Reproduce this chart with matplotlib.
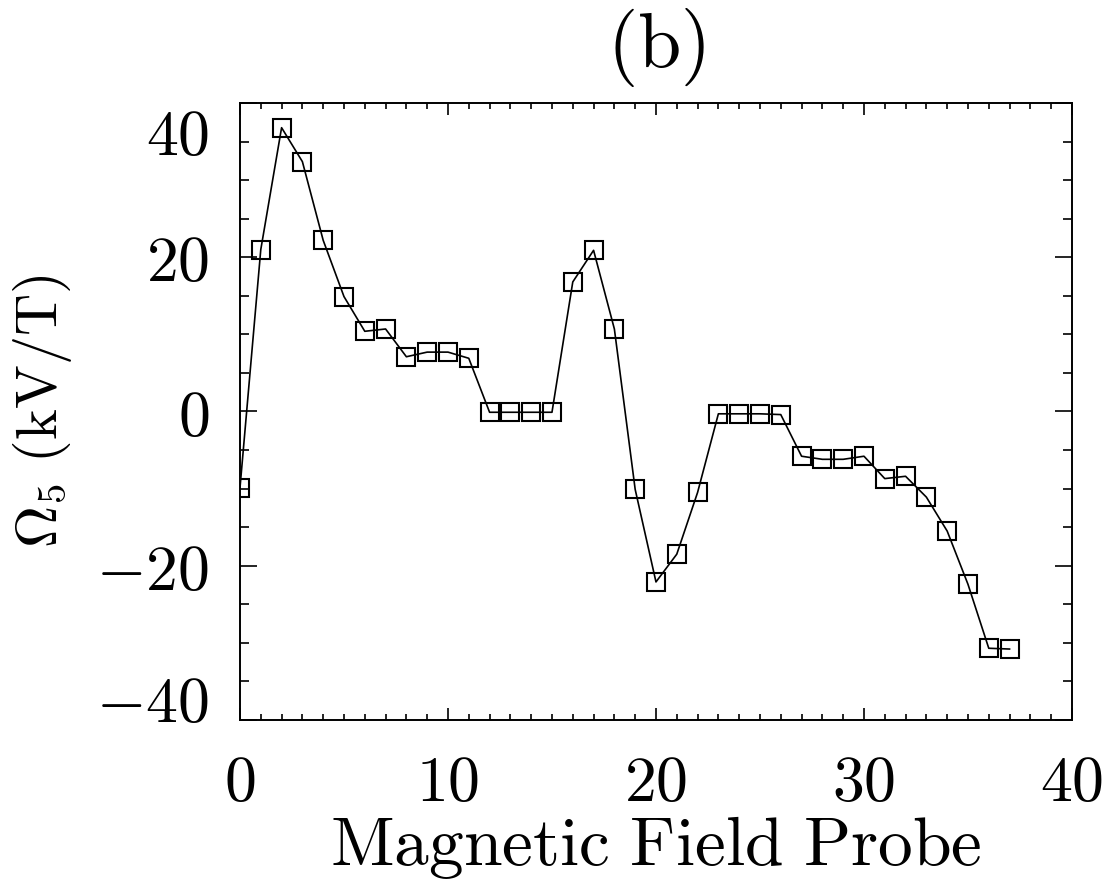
"""Omega_5 per magnetic field probe, panel (b)."""

import matplotlib
matplotlib.use("Agg")
import matplotlib.pyplot as plt
from matplotlib.ticker import FixedLocator, MultipleLocator, FuncFormatter
from matplotlib.transforms import ScaledTranslation


probe = list(range(38))
omega5 = [
    -9.9, 21.0, 36.8, 32.4, 22.2, 14.9, 10.4, 10.7, 7.1, 7.7,
    7.7, 6.9, -0.1, -0.1, -0.1, -0.1, 16.8, 20.9, 10.7, -10.1,
    -22.1, -18.5, -10.5, -0.3, -0.3, -0.3, -0.4, -5.8, -6.2, -6.2,
    -5.8, -8.7, -8.4, -11.1, -15.5, -22.4, -30.7, -30.8,
]

x_ticks = [0, 10, 20, 30, 40]
y_ticks = [-40, -20, 0, 20, 40]


def math_label(value, _pos):
    return f"${value:g}$"


def main() -> None:
    plt.rcParams.update(
        {
            "mathtext.fontset": "cm",
            "font.family": "serif",
            "font.serif": ["DejaVu Serif"],
        }
    )

    fig = plt.figure(figsize=(11.09, 8.88), dpi=100)
    ax = fig.add_axes([0.2164, 0.1892, 0.7502, 0.6948])

    ax.plot(probe, omega5, color="black", linewidth=1.2,
            marker="s", markersize=13, markerfacecolor="none",
            markeredgecolor="black", markeredgewidth=1.5)

    ax.set_xlim(0, 40)
    ax.set_ylim(-40, 40)
    ax.xaxis.set_major_locator(FixedLocator(x_ticks))
    ax.yaxis.set_major_locator(FixedLocator(y_ticks))
    ax.xaxis.set_minor_locator(MultipleLocator(1))
    ax.yaxis.set_minor_locator(MultipleLocator(5))
    ax.xaxis.set_major_formatter(FuncFormatter(math_label))
    ax.yaxis.set_major_formatter(FuncFormatter(math_label))

    ax.tick_params(axis="both", which="both", direction="in",
                   top=True, right=True, width=1.2, color="black")
    ax.tick_params(axis="x", which="major", length=8.5, pad=24, labelsize=46)
    ax.tick_params(axis="x", which="minor", length=4.3)
    ax.tick_params(axis="y", which="major", length=12, pad=22, labelsize=46)
    ax.tick_params(axis="y", which="minor", length=6.5)
    for spine in ax.spines.values():
        spine.set_linewidth(1.4)

    # the end labels sit slightly inside the axis range in the original
    ticks = ax.yaxis.get_major_ticks()
    ticks[0].label1.set_transform(
        ticks[0].label1.get_transform() + ScaledTranslation(0, 16 / 72, fig.dpi_scale_trans))
    ticks[-1].label1.set_transform(
        ticks[-1].label1.get_transform() + ScaledTranslation(0, -20 / 72, fig.dpi_scale_trans))

    ax.set_xlabel(r"$\mathrm{Magnetic\ Field\ Probe}$", fontsize=50, labelpad=0)
    ax.set_ylabel(r"$\Omega_5\ \mathrm{(kV/T)}$", fontsize=42, labelpad=16)
    ax.set_title(r"$\mathrm{(b)}$", fontsize=56, pad=26)

    fig.savefig("out.png", dpi=100, facecolor="white")
    plt.close(fig)


if __name__ == "__main__":
    main()
